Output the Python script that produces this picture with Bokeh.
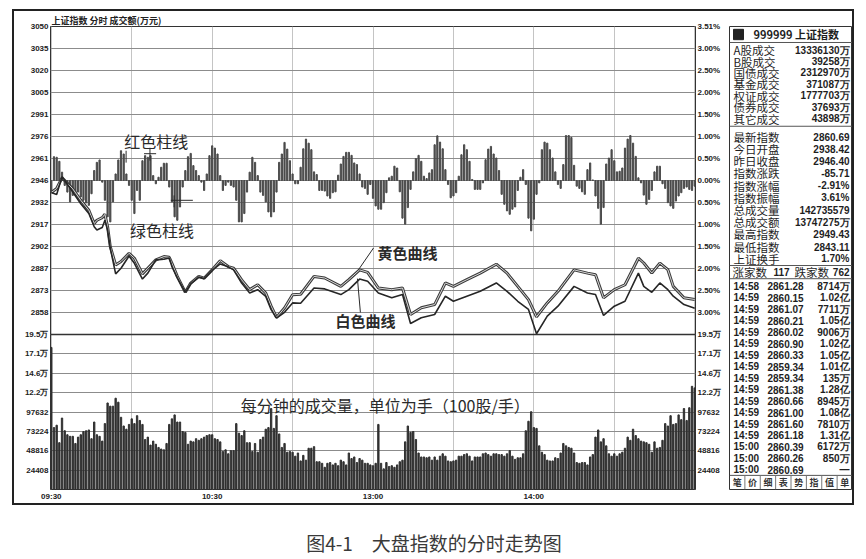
from bokeh.plotting import figure
from bokeh.models import Range1d, FixedTicker, Label, LinearAxis, Grid, Span, Div
from bokeh.layouts import row, column
from bokeh.embed import file_html
from bokeh.resources import INLINE
from bokeh.core.properties import value

# ---------------- data ----------------
prev_close = 2946.40
pct_ticks = [3.51, 3.00, 2.50, 2.00, 1.50, 1.00, 0.50, 0.00, -0.50, -1.00, -1.50, -2.00, -2.50, -3.00]
price_tick_labels = ["3050", "3035", "3020", "3005", "2991", "2976", "2961", "2946",
                     "2932", "2917", "2902", "2887", "2873", "2858"]
pct_tick_labels = ["3.51%", "3.00%", "2.50%", "2.00%", "1.50%", "1.00%", "0.50%", "0.00%",
                   "0.50%", "1.00%", "1.50%", "2.00%", "2.50%", "3.00%"]
vol_ticks = [24408, 48816, 73224, 97632, 122040, 146448, 170856, 195264]
vol_tick_labels = ["24408", "48816", "73224", "97632", "12.2万", "14.6万", "17.1万", "19.5万"]
time_ticks = [0, 60, 120, 180]
time_tick_labels = ["09:30", "10:30", "13:00", "14:00"]
grid_minutes = [0, 30, 60, 90, 120, 150, 180, 210, 240]

line_minutes = [0, 2, 4, 6, 8, 11, 14, 16, 17, 19, 20, 21, 22, 24, 26, 29, 31, 34, 36, 39,
                42, 44, 45, 47, 50, 52, 55, 57, 60, 63, 66, 68, 71, 74, 77, 80, 82, 84, 87, 90,
                93, 98, 102, 108, 111, 115, 118, 122, 127, 131, 134, 138, 143, 147, 150, 155,
                160, 166, 170, 174, 178, 181, 185, 189, 195, 200, 203, 206, 210, 214, 219, 221,
                224, 227, 230, 232, 236, 240]
yellow_line = [2938.4, 2941.0, 2948.2, 2944.5, 2940.8, 2933.1, 2926.4, 2917.5, 2919.7, 2921.5,
               2923.7, 2915.3, 2902.0, 2889.7, 2892.0, 2897.5, 2894.2, 2883.7, 2887.5, 2893.1,
               2895.3, 2894.8, 2890.8, 2882.0, 2871.3, 2877.5, 2882.0, 2880.8, 2886.4, 2892.6,
               2888.6, 2887.5, 2879.7, 2873.1, 2876.4, 2870.8, 2862.0, 2854.5, 2860.8, 2869.7,
               2870.0, 2882.0, 2880.9, 2875.3, 2879.8, 2886.4, 2884.7, 2874.2, 2873.1, 2874.2,
               2856.4, 2860.9, 2863.1, 2877.6, 2875.3, 2879.8, 2884.2, 2890.2, 2884.2, 2875.3,
               2866.4, 2854.9, 2864.2, 2872.0, 2886.4, 2884.2, 2883.1, 2867.6, 2873.1, 2876.4,
               2894.2, 2891.0, 2884.3, 2890.9, 2886.5, 2875.3, 2867.6, 2866.5]
white_line = [2938.4, 2937.0, 2949.0, 2944.0, 2938.6, 2930.8, 2924.2, 2915.3, 2913.1, 2914.8,
              2919.7, 2913.1, 2901.0, 2883.7, 2887.5, 2895.7, 2890.8, 2880.2, 2884.2, 2893.1,
              2893.5, 2894.4, 2888.6, 2881.0, 2871.3, 2877.0, 2881.5, 2880.5, 2886.0, 2890.4,
              2888.4, 2886.4, 2877.5, 2870.8, 2873.1, 2868.6, 2859.7, 2854.0, 2857.9, 2864.2,
              2864.0, 2874.2, 2873.6, 2869.8, 2873.1, 2880.2, 2878.7, 2870.9, 2867.6, 2869.8,
              2850.4, 2854.2, 2856.4, 2868.7, 2865.3, 2868.7, 2872.0, 2877.6, 2872.0, 2865.3,
              2859.8, 2843.5, 2855.3, 2862.0, 2875.3, 2870.9, 2869.8, 2855.8, 2862.0, 2865.3,
              2884.2, 2875.3, 2871.3, 2877.6, 2873.1, 2868.7, 2863.1, 2860.69]

# red / green bars (index points above / below the previous close), one per minute
strength = [-7.8, 16.0, 15.6, 12.9, 5.6, -3.3, -7.8, -14.4, -10.0, -8.4,
            -7.8, -11.1, -13.3, -15.1, -16.7, -8.9, 6.7, 12.2, 13.8, -1.1,
            -13.3, -24.4, -27.8, -14.4, 4.4, 13.8, 20.0, 17.8, 4.4, -3.3,
            -13.3, -22.2, -6.7, -13.3, 13.3, 16.7, 15.6, 16.7, 3.3, -2.2,
            2.2, 8.9, 11.6, 11.6, -4.4, -14.4, -24.4, -26.7, -17.8, -4.4,
            6.7, 16.0, 18.2, 10.0, 6.7, 3.3, -1.1, -6.7, 4.4, 16.7,
            23.3, 21.8, 17.8, 3.3, -6.7, -3.3, -1.1, -3.3, -4.4, -13.3,
            -27.8, -27.8, -22.2, -7.8, 5.6, 15.6, 12.2, 3.3, -7.8, -10.0,
            -14.4, -21.1, -24.4, -21.1, -7.8, 12.2, 17.8, 25.6, 21.1, 13.3,
            4.4, -2.2, -2.2,
            8.9, 21.3, 27.8, 25.1, 20.7, 5.8, 4.0, -6.7, -6.7, -7.1,
            -10.4, -12.0, -8.2, -7.6, 3.6, 11.1, 16.2, 18.9, 18.9, 16.9,
            11.8, 10.7, 4.4, -4.4, -5.3, -9.3, -2.7, -12.0, -17.1, -19.3,
            -19.3, -14.9, -8.2, 1.8, 2.9, 9.6, 8.4, -7.6, -25.3, -29.3,
            -18.2, -6.0, 5.8, 14.7, 16.9, 12.9, 2.9, 1.3, 5.1, 7.3,
            24.0, 30.0, 25.8, 21.3, 7.3, -2.7, -11.6, -10.4, -8.2, 2.9,
            17.3, 24.0, 20.7, 12.9, 0.7, -6.0, -6.0, -6.0, -1.6, 14.0,
            21.1, 22.9, 17.8, 15.1, 6.7, -9.3, -16.0, -20.4, -22.7, -19.3,
            -17.8, -6.7, 2.2, 7.3, -2.7, -25.3, -33.8, -26.0, -9.3, -1.6,
            20.7, 25.8, 25.1, 20.7, 15.1, 5.8, -2.7, -5.3, 10.7, 30.2,
            30.2, 28.9, 10.2, -3.8, -5.3, -7.6, -9.3, 7.3, 11.8, 0.4,
            -10.4, -18.7, -29.3, -18.2, 11.1, 15.1, 20.7, 13.3, 5.8, 6.2,
            8.4, 21.8, 27.8, 30.2, 25.1, 16.2, 1.8, -1.6, -9.8, -16.0,
            -12.7, -6.7, 5.8, 9.6, 9.6, -2.2, -5.3, -14.9, -17.1, -18.7,
            -13.8, -10.4, -8.2, -5.3, -4.4, -6.0, -6.7, -3.8]

# volume per minute, in thousands of 手
volume_k = [179, 78, 81, 59, 90, 74, 69, 67, 67, 58,
            66, 69, 73, 74, 75, 64, 85, 69, 67, 61,
            83, 109, 105, 105, 115, 110, 91, 80, 76, 82,
            89, 83, 93, 87, 82, 63, 66, 56, 61, 57,
            53, 51, 50, 58, 82, 89, 94, 85, 85, 73,
            72, 57, 61, 60, 64, 62, 64, 66, 68, 69,
            69, 64, 63, 60, 48, 50, 45, 49, 49, 83,
            71, 68, 74, 59, 59, 48, 58, 47, 63, 66,
            76, 78, 102, 77, 93, 70, 53, 58, 47, 48,
            47, 42, 46, 36,
            43, 37, 52, 52, 54, 35, 35, 33, 28, 33,
            34, 31, 33, 30, 37, 35, 31, 46, 39, 41,
            34, 39, 37, 33, 33, 31, 30, 33, 82, 33,
            26, 34, 29, 30, 28, 31, 35, 37, 60, 80,
            72, 73, 63, 46, 41, 41, 40, 41, 37, 41,
            37, 42, 45, 42, 36, 35, 36, 37, 42,
            42, 44, 45, 42, 36, 41, 41, 41, 45, 46,
            44, 42, 45, 45, 44, 44, 42, 45, 49, 42,
            38, 40, 40, 45, 74, 86, 98, 78, 77, 55,
            47, 44, 37, 36, 36, 40, 39, 46, 58, 55,
            53, 52, 46, 34, 33, 34, 34, 31, 41, 44,
            66, 75, 60, 64, 55, 45, 42, 45, 42, 45,
            47, 52, 66, 62, 76, 68, 64, 61, 60, 59,
            57, 47, 60, 52, 53, 62, 83, 80, 93, 82,
            83, 94, 88, 102, 87, 103, 130, 128]

info_labels_1 = ["A股成交", "B股成交", "国债成交", "基金成交", "权证成交", "债券成交", "其它成交"]
info_values_1 = ["13336130万", "39258万", "2312970万", "371087万", "1777703万", "37693万", "43898万"]
info_labels_2 = ["最新指数", "今日开盘", "昨日收盘", "指数涨跌", "指数涨幅", "指数振幅",
                 "总成交量", "总成交额", "最高指数", "最低指数", "上证换手"]
info_values_2 = ["2860.69", "2938.42", "2946.40", "-85.71", "-2.91%", "3.61%",
                 "142735579", "13747275万", "2949.43", "2843.11", "1.70%"]
trade_times = ["14:58"] + ["14:59"] * 13 + ["15:00"] * 3
trade_prices = ["2861.28", "2860.15", "2861.07", "2860.21", "2860.02", "2860.90", "2860.33",
                "2859.34", "2859.34", "2861.38", "2860.66", "2861.00", "2861.60", "2861.18",
                "2860.39", "2860.26", "2860.69"]
trade_amounts = ["8714万", "1.02亿", "7711万", "1.05亿", "9006万", "1.02亿", "1.05亿",
                 "1.01亿", "135万", "1.28亿", "8945万", "1.08亿", "7810万", "1.31亿",
                 "6172万", "850万", "—"]
up_count, down_count = 117, 762
tool_buttons = ["笔", "价", "细", "表", "势", "指", "值", "单"]

# ---------------- main chart ----------------
CJK = "Noto Sans CJK SC"
NUM = "Liberation Sans"
FRAME_H, PRICE_H, VOL_H = 466, 310, 156
FIG_H = 492

lo = prev_close * (1 - 0.0351)
hi = prev_close * (1 + 0.0351)
price_ticks = [prev_close * (1 + q / 100.0) for q in pct_ticks]
x_range = Range1d(-0.3, 240.3)
price_range = Range1d(lo - (hi - lo) * VOL_H / PRICE_H, hi)
vol_range = Range1d(0, vol_ticks[-1] * FRAME_H / VOL_H)


def vol_on_price_axis(v):
    # position of a volume value on the shared left/right axes
    return price_range.start + v / vol_range.end * (price_range.end - price_range.start)


axis_ticks = price_ticks + [vol_on_price_axis(v) for v in vol_ticks]

p = figure(width=715, height=FIG_H, x_range=x_range, y_range=price_range,
           output_backend="svg", toolbar_location=None, y_axis_location="left",
           min_border_left=36, min_border_right=34, min_border_top=0, min_border_bottom=11)
p.extra_y_ranges = {"vol": vol_range}
p.outline_line_color = "#333333"
p.outline_line_width = 1
p.title.text = "上证指数  分时  成交额(万元)"
p.title.text_font = CJK
p.title.text_font_size = "9px"
p.title.text_font_style = "bold"
p.title.text_color = "#222222"
p.title.align = "left"
p.title.standoff = 0
p.title.offset = 1
p.title.text_line_height = 1.0

p.xgrid.ticker = FixedTicker(ticks=grid_minutes)
p.xgrid.grid_line_color = "#c4c4c4"
p.ygrid.ticker = FixedTicker(ticks=price_ticks)
p.ygrid.grid_line_color = "#8c8c8c"
p.add_layout(Grid(dimension=1, ticker=FixedTicker(ticks=vol_ticks), y_range_name="vol",
                  grid_line_color="#8c8c8c", grid_line_width=1))
p.add_layout(Span(location=lo, dimension="width", line_color="#333333", line_width=1.6))

right_axis = LinearAxis()
p.add_layout(right_axis, "right")


def style_axis(ax):
    ax.axis_line_color = None
    ax.major_tick_line_color = None
    ax.minor_tick_line_color = None
    ax.major_tick_out = 0
    ax.major_tick_in = 0
    ax.major_label_standoff = 2
    ax.major_label_text_font = NUM
    ax.major_label_text_font_size = "8px"
    ax.major_label_text_font_style = "bold"
    ax.major_label_text_color = "#222222"


ax_x = p.xaxis[0]
ax_x.ticker = FixedTicker(ticks=time_ticks)
ax_x.major_label_overrides = dict(zip(time_ticks, time_tick_labels))
style_axis(ax_x)

ax_l = p.yaxis[0]
ax_l.ticker = FixedTicker(ticks=axis_ticks)
ax_l.major_label_overrides = dict(zip(axis_ticks, price_tick_labels + vol_tick_labels))
style_axis(ax_l)

right_axis.ticker = FixedTicker(ticks=axis_ticks)
right_axis.major_label_overrides = dict(zip(axis_ticks, pct_tick_labels + vol_tick_labels))
style_axis(right_axis)

minutes_idx = list(range(len(strength)))
p.vbar(x=minutes_idx, bottom=prev_close, top=[prev_close + s for s in strength],
       width=0.45, color="#4a4a4a")
vol_idx = list(range(len(volume_k)))
p.vbar(x=vol_idx, bottom=0, top=[v * 1000 for v in volume_k], width=0.5,
       color="#303030", y_range_name="vol")

p.line(line_minutes, yellow_line, line_color="#3c3c3c", line_width=3.0)
p.line(line_minutes, yellow_line, line_color="#d8d8d8", line_width=1.0)
p.line(line_minutes, white_line, line_color="#262626", line_width=1.6)


def note(x, y, text, size, bold=False, range_name="default"):
    p.add_layout(Label(x=x, y=y, text=text, y_range_name=range_name, text_font=CJK,
                       text_font_size=size, text_font_style="bold" if bold else "normal",
                       text_color="#2a2a2a", text_baseline="middle"))


note(27.2, 2973.1, "红色柱线", "16px")
note(29.4, 2913.1, "绿色柱线", "16px")
note(121.7, 2898.1, "黄色曲线", "15px", bold=True)
note(106.0, 2852.1, "白色曲线", "15px", bold=True)
note(70.7, 106400, "每分钟的成交量，单位为手（100股/手）", "16px", range_name="vol")

p.segment(x0=[27.9, 36.8, 34.6, 44.6, 45.8, 120.2, 115.3],
          y0=[2966.4, 2968.4, 2964.4, 2933.1, 2936.4, 2901.1, 2857.8],
          x1=[27.9, 36.8, 39.1, 52.8, 45.8, 114.6, 114.2],
          y1=[2958.4, 2959.7, 2964.4, 2933.1, 2928.4, 2886.5, 2880.5],
          line_color="#2a2a2a", line_width=1)

# ---------------- info panel ----------------
IW, IH = 123, FIG_H
info = figure(width=IW, height=IH, x_range=Range1d(0, IW), y_range=Range1d(IH, 0),
              output_backend="svg", toolbar_location=None,
              x_axis_location=None, y_axis_location=None,
              min_border_left=0, min_border_right=0, min_border_top=0, min_border_bottom=0)
info.grid.visible = False
info.outline_line_color = "#333333"
info.outline_line_width = 1


def txt(xs, ys, texts, font, size, align="left", bold=False, color="#1e1e1e"):
    info.text(x=xs, y=ys, text=texts, text_font=value(font), text_font_size=value(size),
              text_font_style="bold" if bold else "normal", text_align=align,
              text_baseline="middle", text_color=color)


info.quad(left=[4], right=[14], top=[3], bottom=[14], color="#222222")
txt([24], [8.5], ["999999 上证指数"], CJK, "11px", bold=True)

y1 = [25 + 12.2 * i for i in range(len(info_labels_1))]
txt([4] * len(y1), y1, info_labels_1, CJK, "11.5px")
txt([120] * len(y1), y1, info_values_1, NUM, "10px", align="right", bold=True)

y2 = [117 + 13.0 * i for i in range(len(info_labels_2))]
txt([4] * len(y2), y2, info_labels_2, CJK, "11.5px")
txt([120] * len(y2), y2, info_values_2, NUM, "10px", align="right", bold=True)

txt([3, 65], [261, 261], ["涨家数", "跌家数"], CJK, "11.5px")
txt([44], [261], [str(up_count)], NUM, "10px", bold=True)
txt([120], [261], [str(down_count)], NUM, "10px", align="right", bold=True)

y3 = [276 + 12.2 * i for i in range(len(trade_times))]
txt([4] * len(y3), y3, trade_times, NUM, "10px", bold=True)
txt([38] * len(y3), y3, trade_prices, NUM, "10px", bold=True)
txt([120] * len(y3), y3, trade_amounts, NUM, "10px", align="right", bold=True)

seps = [17, 106, 254, 268, 477]
info.segment(x0=[0] * len(seps), x1=[IW] * len(seps), y0=seps, y1=seps,
             line_color="#555555", line_width=1)
cell = IW / len(tool_buttons)
txt([cell * (i + 0.5) for i in range(len(tool_buttons))], [484.5] * len(tool_buttons),
    tool_buttons, CJK, "9px", align="center", bold=True, color="#333333")
info.segment(x0=[cell * i for i in range(1, len(tool_buttons))],
             x1=[cell * i for i in range(1, len(tool_buttons))],
             y0=[477] * (len(tool_buttons) - 1), y1=[IH] * (len(tool_buttons) - 1),
             line_color="#777777", line_width=1)

# ---------------- caption ----------------
CAP_H = 53
cap = figure(width=842, height=CAP_H, x_range=Range1d(0, 842), y_range=Range1d(0, CAP_H),
             output_backend="svg", toolbar_location=None,
             x_axis_location=None, y_axis_location=None,
             min_border_left=0, min_border_right=0, min_border_top=0, min_border_bottom=0)
cap.grid.visible = False
cap.outline_line_color = None
cap.add_layout(Label(x=421.5, y=16, text="图4-1　大盘指数的分时走势图", text_font=CJK,
                     text_font_size="19px", text_color="#3a3a3a",
                     text_align="center", text_baseline="middle"))

# ---------------- outer frame (dark bars) ----------------
def bar(w, h):
    return Div(width=w, height=h, margin=(0, 0, 0, 0),
               styles={"background-color": "#222222", "padding": "0px"})


body = row(bar(2, IH), p, info, bar(2, IH))
layout = column(bar(842, 2), body, bar(842, 2), cap, margin=(9, 0, 0, 12))

open("out.html", "w").write(file_html(layout, INLINE))
